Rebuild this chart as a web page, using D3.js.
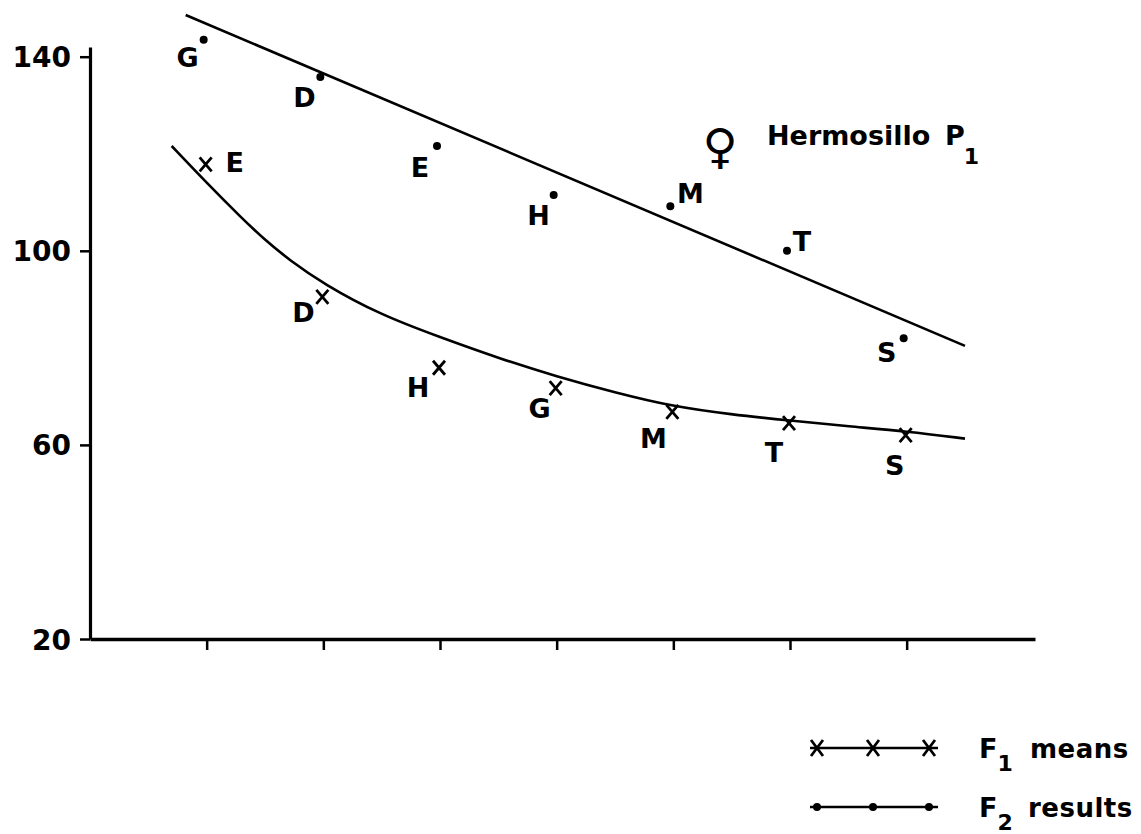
<!DOCTYPE html>
<html>
<head>
<meta charset="utf-8">
<script src="https://cdn.jsdelivr.net/npm/d3@7"></script>
<style>
	body { margin: 0; background: #fff; }
	svg text { font-family: "DejaVu Sans", sans-serif; font-weight: bold; fill: #000; }
</style>
</head>
<body>
<svg id="chart" width="1141" height="834"></svg>
<script>
// Rank positions along the x axis (no labels printed)
var ranks = [1, 2, 3, 4, 5, 6, 7];
// y axis ticks
var yTicks = [20, 60, 100, 140];

// F1 means (crosses), in rank order
var f1Letters = ["E", "D", "H", "G", "M", "T", "S"];
var f1Values = [117.8, 90.5, 75.9, 71.7, 66.8, 64.5, 62.0];
// F2 results (dots), in rank order
var f2Letters = ["G", "D", "E", "H", "M", "T", "S"];
var f2Values = [143.5, 135.8, 121.6, 111.5, 109.2, 100.0, 82.0];

// Hand drawn fit for F2: a straight line
var f2FitX = [0.82, 7.5];
var f2FitY = [148.6, 80.4];
// Hand drawn fit for F1: a smooth curve
var f1FitX = [0.70, 1.0, 1.29, 1.5, 1.71, 2.0, 2.49, 3.0, 3.51, 4.0, 4.5, 5.0, 5.49, 6.0, 6.51, 7.0, 7.5];
var f1FitY = [121.6, 114.0, 107.0, 102.2, 98.1, 93.2, 86.8, 82.2, 77.8, 74.1, 70.8, 67.9, 66.3, 65.0, 63.8, 62.8, 61.3];

var title = "Hermosillo";
var legendNames = ["means", "results"];

// Where each letter sits next to its mark (dx to centre, dy to baseline)
const f1LabelOffsets = [[29, 8], [-19, 25], [-21, 29], [-16, 30], [-19, 36], [-15, 39], [-11, 40]];
const f2LabelOffsets = [[-16, 27], [-16, 30], [-17, 31], [-15, 30], [20, -3], [15, 0], [-17, 24]];

function drawChart() {
	let svg = d3.select("#chart");

	let x = d3.scaleLinear().domain([0, 8.1]).range([90, 1035]);
	let y = d3.scaleLinear().domain([20, 142]).range([639, 47]);

	// Axes
	let yAxis = d3.axisLeft(y)
		.tickValues(yTicks)
		.tickSize(10)
		.tickSizeOuter(0)
		.tickPadding(9);
	let gy = svg.append("g")
		.attr("transform", `translate(${x(0)},0)`)
		.call(yAxis);
	gy.select(".domain").attr("stroke-width", 3.2);
	gy.selectAll(".tick line").attr("stroke-width", 2.5);
	gy.selectAll(".tick text")
		.attr("font-size", 28)
		.attr("font-family", "DejaVu Sans")
		.attr("font-weight", "bold")
		.attr("dy", "0.36em");

	let xAxis = d3.axisBottom(x)
		.tickValues(ranks)
		.tickSize(11)
		.tickSizeOuter(0)
		.tickFormat("");
	let gx = svg.append("g")
		.attr("transform", `translate(0,${y(20)})`)
		.call(xAxis);
	gx.select(".domain").attr("stroke-width", 3.6);
	gx.selectAll(".tick line").attr("stroke-width", 2.5);

	// Fitted lines
	let line = d3.line()
		.x(d => x(d[0]))
		.y(d => y(d[1]));
	svg.append("path")
		.datum(d3.zip(f2FitX, f2FitY))
		.attr("d", line)
		.attr("fill", "none")
		.attr("stroke", "#000")
		.attr("stroke-width", 2.6);
	svg.append("path")
		.datum(d3.zip(f1FitX, f1FitY))
		.attr("d", line.curve(d3.curveBasis))
		.attr("fill", "none")
		.attr("stroke", "#000")
		.attr("stroke-width", 2.6);

	// F2 dots
	let f2 = ranks.map((r, i) => ({rank: r, value: f2Values[i], letter: f2Letters[i], off: f2LabelOffsets[i]}));
	let dots = svg.append("g").selectAll("g.dot")
		.data(f2)
		.enter().append("g")
		.classed("dot", true)
		.attr("transform", d => `translate(${x(d.rank) - 3}, ${y(d.value)})`);
	dots.append("circle")
		.attr("r", 4);
	dots.append("text")
		.attr("x", d => d.off[0])
		.attr("y", d => d.off[1])
		.attr("text-anchor", "middle")
		.attr("font-size", 27)
		.text(d => d.letter);

	// F1 crosses
	let f1 = ranks.map((r, i) => ({rank: r, value: f1Values[i], letter: f1Letters[i], off: f1LabelOffsets[i]}));
	let crosses = svg.append("g").selectAll("g.cross")
		.data(f1)
		.enter().append("g")
		.classed("cross", true)
		.attr("transform", d => `translate(${x(d.rank) - 1}, ${y(d.value)})`);
	crosses.append("path")
		.attr("d", "M-6,-7L6,7M6,-7L-6,7")
		.attr("stroke", "#000")
		.attr("stroke-width", 2.8);
	crosses.append("text")
		.attr("x", d => d.off[0])
		.attr("y", d => d.off[1])
		.attr("text-anchor", "middle")
		.attr("font-size", 27)
		.text(d => d.letter);

	// Title: female symbol, name, P1
	let t = svg.append("g");
	t.append("text")
		.attr("x", 720)
		.attr("y", 163)
		.attr("text-anchor", "middle")
		.attr("font-size", 48)
		.attr("font-weight", "normal")
		.text("\u2640");
	t.append("text")
		.attr("x", 767)
		.attr("y", 145)
		.attr("font-size", 27)
		.text(title);
	let p = t.append("text")
		.attr("x", 945)
		.attr("y", 145)
		.attr("font-size", 27);
	p.append("tspan").text("P");
	p.append("tspan")
		.attr("dx", -1)
		.attr("dy", 19)
		.attr("font-size", 22)
		.text("1");

	// Legend
	let legend = svg.append("g");
	const legY = [748, 807];
	const legX = [817, 873, 929];
	legY.forEach((ly, k) => {
		legend.append("line")
			.attr("x1", 810).attr("x2", 938)
			.attr("y1", ly).attr("y2", ly)
			.attr("stroke", "#000")
			.attr("stroke-width", 2.6);
		legX.forEach(lx => {
			if (k == 0)
				legend.append("path")
					.attr("transform", `translate(${lx},${ly})`)
					.attr("d", "M-6,-8L6,8M6,-8L-6,8")
					.attr("stroke", "#000")
					.attr("stroke-width", 2.8);
			else
				legend.append("circle")
					.attr("cx", lx).attr("cy", ly)
					.attr("r", 4);
		});
		let lt = legend.append("text")
			.attr("x", 979)
			.attr("y", ly + 10)
			.attr("font-size", 27);
		lt.append("tspan").text("F");
		lt.append("tspan")
			.attr("dx", 0)
			.attr("dy", 13)
			.attr("font-size", 22)
			.text(k == 0 ? "1" : "2");
		lt.append("tspan")
			.attr("x", k == 0 ? 1030 : 1028)
			.attr("y", ly + 10)
			.attr("font-size", 26)
			.attr("letter-spacing", 0.5)
			.text(legendNames[k]);
	});
}

if (document.readyState !== "loading") {
	drawChart();
} else {
	document.addEventListener("DOMContentLoaded", drawChart);
}
</script>
</body>
</html>
